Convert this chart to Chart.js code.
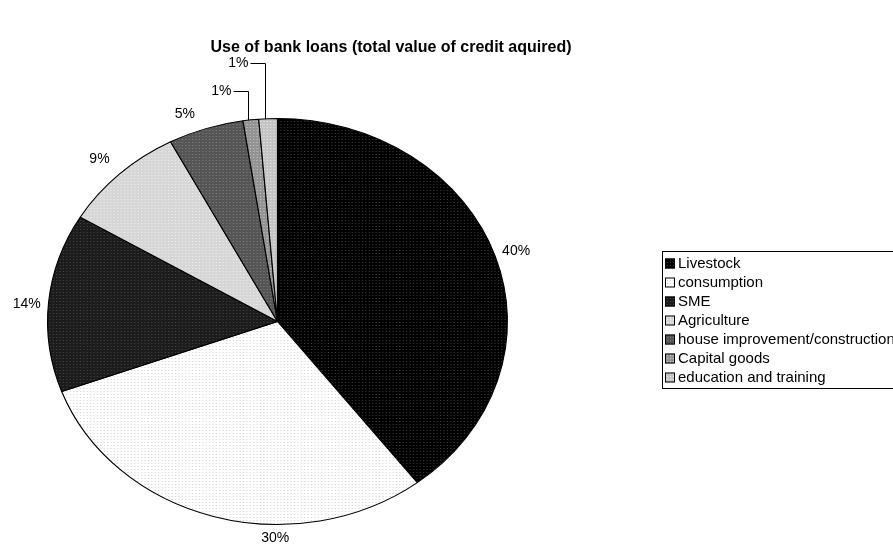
<!DOCTYPE html>
<html>
<head>
<meta charset="utf-8">
<script src="https://cdn.jsdelivr.net/npm/chart.js@4.4.0/dist/chart.umd.min.js"></script>
<style>
  html, body { margin: 0; padding: 0; background: #ffffff; }
  #wrap { width: 893px; height: 546px; position: relative; overflow: hidden; }
</style>
</head>
<body>
<div id="wrap"><canvas id="c" width="893" height="546"></canvas></div>
<script>
// Loan use shares, in percent of the total value of credit acquired
const chartTitle = 'Use of bank loans (total value of credit aquired)';
const categories = ['Livestock', 'consumption', 'SME', 'Agriculture',
                    'house improvement/construction', 'Capital goods', 'education and training'];
const shares = [39.6, 29.8, 14.2, 8.7, 5.3, 1.1, 1.3];

const FONT = '"Liberation Sans", Arial, sans-serif';

// Fine dotted fills, like the print-style patterns of the original chart
function dotFill(base, dot) {
  const t = document.createElement('canvas');
  t.width = 3; t.height = 3;
  const g = t.getContext('2d');
  g.fillStyle = base; g.fillRect(0, 0, 3, 3);
  g.fillStyle = dot; g.fillRect(1, 1, 1, 1);
  return g.createPattern(t, 'repeat');
}
const fills = [
  dotFill('#000000', '#3a3a3a'),
  dotFill('#ffffff', '#d6d6d6'),
  dotFill('#1c1c1c', '#444444'),
  dotFill('#d6d6d6', '#eeeeee'),
  dotFill('#555555', '#808080'),
  dotFill('#939393', '#c4c4c4'),
  dotFill('#c4c4c4', '#eaeaea')
];

// Pie geometry: circle of radius ry, stretched horizontally to rx
const PIE = { cx: 277.5, cy: 321.5, rx: 230.5, ry: 203.5 };
const stretch = PIE.rx / PIE.ry;

const ellipsePie = {
  id: 'ellipsePie',
  beforeDatasetsDraw(chart) {
    const arc = chart.getDatasetMeta(0).data[0];
    const ctx = chart.ctx;
    ctx.save();
    ctx.translate(arc.x, arc.y);
    ctx.scale(stretch, 1);
    ctx.translate(-arc.x, -arc.y);
  },
  afterDatasetsDraw(chart) {
    chart.ctx.restore();
  }
};

// Small per-label nudges so labels sit where the layout engine put them
const labelNudge = [[0, 0], [68, 6], [0, 3], [-5, -3], [-14, 1]];

// Percentage labels outside the slices; thin slices get leader lines
const sliceLabels = {
  id: 'sliceLabels',
  afterDatasetsDraw(chart) {
    const ctx = chart.ctx;
    const meta = chart.getDatasetMeta(0);
    const values = chart.data.datasets[0].data;
    const total = values.reduce((a, b) => a + b, 0);
    ctx.save();
    ctx.font = '14px ' + FONT;
    ctx.fillStyle = '#000';
    ctx.strokeStyle = '#000';
    ctx.lineWidth = 1;
    let rise = 29;
    meta.data.forEach((arc, i) => {
      const txt = Math.round(values[i] / total * 100) + '%';
      const rx = arc.outerRadius * stretch;
      const ry = arc.outerRadius;
      if (values[i] / total < 0.02) {
        const a = arc.startAngle + 0.35 * (arc.endAngle - arc.startAngle);
        const ex = arc.x + rx * Math.cos(a);
        const ey = arc.y + ry * Math.sin(a);
        const ly = Math.round(ey - rise) + 0.5;
        const lx = Math.round(ex) + 0.5;
        ctx.beginPath();
        ctx.moveTo(lx, ey);
        ctx.lineTo(lx, ly);
        ctx.lineTo(lx - 15, ly);
        ctx.stroke();
        ctx.textAlign = 'right';
        ctx.textBaseline = 'middle';
        ctx.fillText(txt, lx - 17, ly);
        rise += 27;
      } else {
        const a = (arc.startAngle + arc.endAngle) / 2;
        const n = labelNudge[i] || [0, 0];
        const tx = arc.x + (rx + 22) * Math.cos(a) + n[0];
        const ty = arc.y + (ry + 16) * Math.sin(a) + n[1];
        ctx.textAlign = 'center';
        ctx.textBaseline = 'middle';
        ctx.fillText(txt, tx, ty);
      }
    });
    ctx.restore();
  }
};

// Title and boxed legend
const frame = {
  id: 'frame',
  afterDraw(chart) {
    const ctx = chart.ctx;
    ctx.save();
    ctx.fillStyle = '#000';
    ctx.font = 'bold 16px ' + FONT;
    ctx.textAlign = 'center';
    ctx.textBaseline = 'middle';
    ctx.fillText(chartTitle, 391, 48);

    const L = { x: 662.5, y: 251.5, w: 260, h: 137, row: 19, first: 263.5 };
    ctx.strokeStyle = '#000';
    ctx.lineWidth = 1;
    ctx.strokeRect(L.x, L.y, L.w, L.h);
    ctx.font = '15px ' + FONT;
    ctx.textAlign = 'left';
    const bg = chart.data.datasets[0].backgroundColor;
    chart.data.labels.forEach((name, i) => {
      const y = L.first + i * L.row;
      ctx.fillStyle = bg[i];
      ctx.fillRect(665, y - 5, 10, 10);
      ctx.strokeRect(665.5, y - 4.5, 9, 9);
      ctx.fillStyle = '#000';
      ctx.fillText(name, 678, y + 0.5);
    });
    ctx.restore();
  }
};

new Chart(document.getElementById('c'), {
  type: 'pie',
  data: {
    labels: categories,
    datasets: [{
      data: shares,
      backgroundColor: fills,
      borderColor: '#000000',
      borderWidth: 1,
      clip: false
    }]
  },
  options: {
    responsive: false,
    animation: false,
    events: [],
    layout: {
      padding: {
        left: PIE.cx - PIE.ry,
        right: 893 - (PIE.cx + PIE.ry),
        top: PIE.cy - PIE.ry,
        bottom: 546 - (PIE.cy + PIE.ry)
      }
    },
    plugins: {
      legend: { display: false },
      title: { display: false },
      tooltip: { enabled: false }
    }
  },
  plugins: [ellipsePie, sliceLabels, frame]
});
</script>
</body>
</html>
